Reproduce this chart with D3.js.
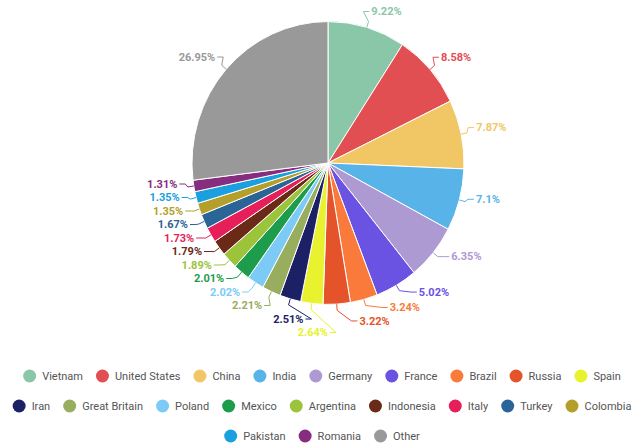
<!DOCTYPE html>
<html>
<head>
<style>
  body { margin: 0; background: #fff; }
  svg { display: block; font-family: Roboto, "Noto Sans", sans-serif; }
</style>
</head>
<body>
<svg id="chart" width="638" height="447"></svg>
<script src="https://cdnjs.cloudflare.com/ajax/libs/d3/7.8.5/d3.min.js"></script>
<script>
// Data
const countries = ["Vietnam", "United States", "China", "India", "Germany", "France", "Brazil",
  "Russia", "Spain", "Iran", "Great Britain", "Poland", "Mexico", "Argentina", "Indonesia",
  "Italy", "Turkey", "Colombia", "Pakistan", "Romania", "Other"];
const shares = [9.22, 8.58, 7.87, 7.1, 6.35, 5.02, 3.24, 3.22, 2.64, 2.51, 2.21, 2.02, 2.01,
  1.89, 1.79, 1.73, 1.67, 1.35, 1.35, 1.31, 26.95];
const colors = ["#8ac7a8", "#e24f52", "#f1c766", "#58b4e8", "#ae9ad3", "#6a52e2", "#fa7a3c",
  "#e5532b", "#e8f22e", "#1c2166", "#98ad5d", "#7ccbf6", "#1d9d4c", "#9cc43a", "#6b2a17",
  "#e61f5b", "#2b6497", "#b49f2b", "#1aa0df", "#862d7f", "#999999"];

const data = countries.map((c, i) => ({ name: c, value: shares[i], color: colors[i] }));

// Layout
const cx = 328, cy = 163, radius = 136, squash = 1.04;
const labelRadius = 148, xRadius = 152, lineGap = 13.5;

const svg = d3.select("#chart");

const pie = d3.pie().sort(null).value(d => d.value);
const arcs = pie(data);
const arc = d3.arc().innerRadius(0).outerRadius(radius);

svg.append("g")
    .attr("transform", `translate(${cx},${cy}) scale(1,${squash})`)
  .selectAll("path")
  .data(arcs)
  .join("path")
    .attr("d", arc)
    .attr("fill", d => d.data.color)
    .attr("stroke", "#fff")
    .attr("stroke-width", 1)
    .attr("vector-effect", "non-scaling-stroke");

// Data labels: natural position outside the slice, then pushed down to avoid overlaps
const labels = arcs.map(a => {
  const mid = (a.startAngle + a.endAngle) / 2;
  return {
    a, mid,
    left: mid > Math.PI,
    y: cy - labelRadius * Math.cos(mid) * squash,
    ax: cx + labelRadius * Math.sin(mid),
    ex: cx + radius * Math.sin(mid),
    ey: cy - radius * Math.cos(mid) * squash
  };
});

[true, false].forEach(side => {
  const group = labels.filter(l => l.left === side).sort((p, q) => p.y - q.y);
  for (let i = 1; i < group.length; i++) {
    if (group[i].y < group[i - 1].y + lineGap) group[i].y = group[i - 1].y + lineGap;
  }
});

labels.forEach(l => {
  l.ty = l.y - 4;
  const dy = Math.min(1, Math.abs(l.ty - cy) / squash / xRadius);
  const off = Math.sqrt(1 - dy * dy) * xRadius;
  if (l.left) {
    l.tx = cx - off;
  } else {
    const c = Math.min(0, Math.cos(l.mid));
    l.tx = Math.max(cx + off, l.ax + 22 * c * c);
  }
});

const lg = svg.append("g");

lg.selectAll("path")
  .data(labels)
  .join("path")
    .attr("fill", "none")
    .attr("stroke", d => d.a.data.color)
    .attr("stroke-width", 1)
    .attr("d", d => {
      const s = d.left ? -1 : 1;
      const bx = cx + (radius + 6) * Math.sin(d.mid);
      const by = cy - (radius + 6) * Math.cos(d.mid) * squash;
      return `M${d.ex},${d.ey}L${bx},${by}L${d.tx - s * 8},${d.ty}L${d.tx - s * 2},${d.ty}`;
    });

lg.selectAll("text")
  .data(labels)
  .join("text")
    .attr("x", d => d.tx)
    .attr("y", d => d.ty)
    .attr("dy", "0.35em")
    .attr("text-anchor", d => d.left ? "end" : "start")
    .attr("font-size", 11)
    .attr("font-weight", "bold")
    .attr("fill", d => d.a.data.color)
    .text(d => d.a.data.value + "%");

// Legend, flowed into centred rows
const legendTop = 376, rowStep = 30, maxRow = 632, itemGap = 13, legendCenter = 322;
const legend = svg.append("g");
const items = legend.selectAll("g")
  .data(data)
  .join("g");

items.append("circle")
    .attr("cx", 6.5)
    .attr("r", 6.5)
    .attr("fill", d => d.color);

items.append("text")
    .attr("x", 19)
    .attr("dy", "0.35em")
    .attr("font-size", 11)
    .attr("fill", "#555")
    .text(d => d.name);

const rows = [[]];
let rowW = 0;
items.each(function () {
  const w = 19 + this.querySelector("text").getComputedTextLength();
  const need = rowW === 0 ? w : rowW + itemGap + w;
  if (need > maxRow && rowW > 0) {
    rows.push([]);
    rowW = w;
  } else {
    rowW = need;
  }
  rows[rows.length - 1].push({ node: this, w });
});

rows.forEach((row, r) => {
  const total = d3.sum(row, d => d.w) + itemGap * (row.length - 1);
  let x = legendCenter - total / 2;
  row.forEach(it => {
    d3.select(it.node).attr("transform", `translate(${x},${legendTop + r * rowStep})`);
    x += it.w + itemGap;
  });
});
</script>
</body>
</html>
